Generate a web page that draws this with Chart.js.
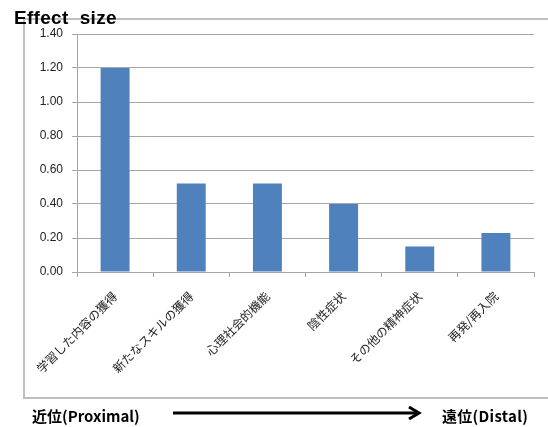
<!DOCTYPE html>
<html>
<head>
<meta charset="utf-8">
<script src="https://cdn.jsdelivr.net/npm/chart.js@4"></script>
<style>
  html, body { margin:0; padding:0; background:#fff; }
  #wrap { position:relative; width:548px; height:427px; overflow:hidden; }
  #box { position:absolute; left:23px; top:18px; width:560px; height:377px; border:2px solid #bfbfbf; box-sizing:content-box; }
  canvas { position:absolute; left:0; top:0; }
  .t { position:absolute; white-space:nowrap; color:#000; font-weight:bold; }
  #title { left:14px; top:8px; font-family:"Liberation Sans", Arial, sans-serif; font-size:19px; line-height:20px; letter-spacing:0.3px; }
  #near { left:32px; top:406px; font-family:"Noto Sans CJK JP", sans-serif; font-size:15px; line-height:20px; }
  #far { left:442px; top:406px; font-family:"Noto Sans CJK JP", sans-serif; font-size:15px; line-height:20px; letter-spacing:0.3px; }
  #arrow { position:absolute; left:173px; top:405px; }
</style>
</head>
<body>
<div id="wrap">
  <div id="box"></div>
  <canvas id="c" width="548" height="427"></canvas>
  <div class="t" id="title">Effect&nbsp; size</div>
  <div class="t" id="near">近位(Proximal)</div>
  <svg id="arrow" width="252" height="16" viewBox="0 0 252 16">
    <line x1="0" y1="8" x2="244" y2="8" stroke="#000" stroke-width="3"/>
    <polyline points="236,2 246,8 236,14" fill="none" stroke="#000" stroke-width="3"/>
  </svg>
  <div class="t" id="far">遠位(Distal)</div>
</div>
<script>
const categories = ["学習した内容の獲得", "新たなスキルの獲得", "心理社会的機能", "陰性症状", "その他の精神症状", "再発/再入院"];
const effectSizes = [1.20, 0.52, 0.52, 0.40, 0.15, 0.23];
const yTicks = [0.00, 0.20, 0.40, 0.60, 0.80, 1.00, 1.20, 1.40];

const gridColor = "#a6a6a6";
new Chart(document.getElementById("c"), {
  type: "bar",
  data: {
    labels: categories,
    datasets: [{
      data: effectSizes,
      backgroundColor: "#4f81bd",
      borderWidth: 0,
      categoryPercentage: 1.0,
      barPercentage: 0.38
    }]
  },
  options: {
    responsive: false,
    devicePixelRatio: 1,
    animation: false,
    layout: { padding: { left: 0, right: 14, top: 34, bottom: 0 } },
    plugins: { legend: { display: false }, tooltip: { enabled: false }, title: { display: false } },
    scales: {
      y: {
        min: yTicks[0],
        max: yTicks[yTicks.length - 1],
        afterBuildTicks: (s) => { s.ticks = yTicks.map(v => ({ value: v })); },
        afterFit: (s) => { s.width = 77; },
        ticks: {
          callback: (v) => Number(v).toFixed(2),
          font: { family: "Liberation Sans, Arial, sans-serif", size: 12 },
          color: "#222",
          padding: 9
        },
        grid: { color: gridColor, lineWidth: 1, tickLength: 5, drawTicks: true },
        border: { color: gridColor, width: 1 }
      },
      x: {
        afterFit: (s) => { s.height = 155; },
        ticks: {
          minRotation: 45,
          maxRotation: 45,
          autoSkip: false,
          font: { family: "Noto Sans CJK JP, sans-serif", size: 12 },
          color: "#222",
          padding: 12
        },
        grid: { offset: true, drawOnChartArea: false, drawTicks: true, tickLength: 5, color: gridColor },
        border: { color: gridColor, width: 1 }
      }
    }
  }
});
</script>
</body>
</html>
